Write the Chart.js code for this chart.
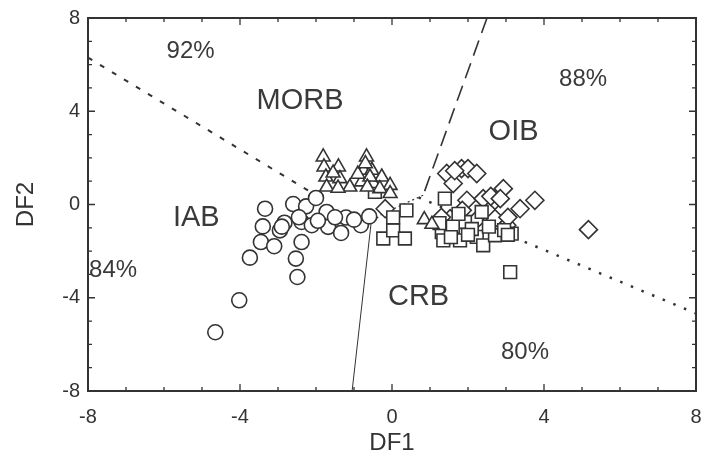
<!DOCTYPE html>
<html>
<head>
<meta charset="utf-8">
<script src="https://cdn.jsdelivr.net/npm/chart.js@4.4.1/dist/chart.umd.min.js"></script>
<style>
  html, body { margin: 0; padding: 0; background: #fff; }
  #wrap { width: 701px; height: 470px; }
</style>
</head>
<body>
<div id="wrap"><canvas id="df"></canvas></div>
<script>
// IAB (circles)
var iabX = [-4.65, -4.02, -3.74, -3.34, -3.40, -3.45, -3.10, -2.95, -2.83, -2.60, -2.49, -2.53, -2.38, -2.38,
            -2.26, -2.00, -2.11, -1.72, -1.68, -1.34, -1.21, -0.82, -0.60, -2.90, -1.95, -1.50, -1.00, -2.45];
var iabY = [-5.48, -4.11, -2.28, -0.18, -0.94, -1.61, -1.79, -1.11, -0.78, 0.02, -3.11, -2.32, -1.61, -0.75,
            -0.08, 0.28, -0.89, -0.32, -0.96, -1.22, -0.56, -0.89, -0.51, -0.95, -0.70, -0.55, -0.65, -0.55];
// MORB (triangles)
var morbX = [-1.81, -1.79, -1.74, -1.41, -1.37, -1.72, -1.11, -0.67, -0.75, -0.53, -0.80, -0.49, -0.27,
             -0.05, -0.32, -0.05, -1.42, -0.58, -0.90, -1.55, -0.65, -1.63, 0.85, 1.05, -0.70];
var morbY = [2.04, 1.61, 1.18, 1.61, 1.11, 0.75, 0.75, 2.04, 1.47, 1.47, 0.97, 0.90, 1.18,
             0.82, 0.68, 0.47, 0.70, 1.18, 1.30, 1.35, 0.75, -0.70, -0.65, -0.85, 1.75];
// CRB (squares)
var crbX = [-0.23, 0.03, 0.34, 0.03, 0.38, 1.39, 1.31, 1.35, 1.92, 1.79, 2.23, 2.36, 2.40, 2.71, 3.15, 3.11,
            1.60, 2.10, 1.25, 2.55, 2.95, 1.55, 2.00, -0.45, 3.05, 1.75];
var crbY = [-1.46, -1.11, -1.46, -0.55, -0.25, 0.25, -1.18, -1.54, -0.75, -1.54, -1.39, -0.32, -1.75, -1.32, -1.25, -2.90,
            -0.95, -1.05, -0.80, -0.95, -1.10, -1.40, -1.30, 0.54, -1.30, -0.40];
// OIB (diamonds)
var oibX = [1.83, 2.00, 2.23, 1.44, 1.61, 1.97, 2.40, 2.71, 2.93, 3.37, 3.76, 1.53, 2.71, 3.02, -0.18, 5.17,
            2.60, 1.85, 2.20, 1.30, 2.85, 1.65, 3.05];
var oibY = [1.54, 1.54, 1.33, 1.33, 0.90, 0.18, 0.25, 0.18, 0.68, -0.18, 0.18, -0.61, -0.61, -0.89, -0.18, -1.08,
            0.35, -0.25, -0.70, -0.55, 0.25, 1.45, -0.55];

// field boundaries
var iabMorbX = [-8, -1.8];        var iabMorbY = [6.3, 0.2];
var morbOibX = [2.5, 0.82];       var morbOibY = [8, 0.4];
var junctionX = [0.82, 0.35, -0.3, -0.55]; var junctionY = [0.4, 0.05, -0.45, -0.8];
var iabCrbX = [-0.55, -1.05];     var iabCrbY = [-0.8, -8];
var crbOibX = [0.7, 8];           var crbOibY = [0.3, -4.67];

// field names and success rates
var fieldText = ['MORB', 'OIB', 'IAB', 'CRB'];
var fieldX = [-2.42, 3.2, -5.15, 0.7];
var fieldY = [4.45, 3.1, -0.6, -3.95];
var rateText = ['92%', '88%', '84%', '80%'];
var rateX = [-5.3, 5.03, -7.34, 3.5];
var rateY = [6.57, 5.37, -2.82, -6.34];

var ink = '#333';

function pts(xs, ys) {
  return xs.map(function (x, i) { return { x: x, y: ys[i] }; });
}

function markers(label, xs, ys, style, r) {
  return {
    type: 'scatter', label: label, data: pts(xs, ys),
    pointStyle: style, pointRadius: r, pointHoverRadius: r,
    pointBackgroundColor: '#fff', pointBorderColor: ink, pointBorderWidth: 1.6
  };
}

function boundary(xs, ys, dash, width) {
  return {
    type: 'line', data: pts(xs, ys), showLine: true, pointRadius: 0,
    borderColor: ink, borderWidth: width, borderDash: dash, fill: false, tension: 0
  };
}

var frame = {
  id: 'frame',
  afterDatasetsDraw: function (chart) {
    var c = chart.ctx, a = chart.chartArea;
    var sx = chart.scales.x, sy = chart.scales.y;
    c.save();
    c.strokeStyle = ink;
    c.lineWidth = 2;
    c.strokeRect(a.left, a.top, a.right - a.left, a.bottom - a.top);
    c.lineWidth = 1.3;
    c.beginPath();
    for (var v = -8; v <= 8; v++) {
      var len = (v % 4 === 0) ? 7 : 4;
      var px = sx.getPixelForValue(v), py = sy.getPixelForValue(v);
      c.moveTo(px, a.bottom); c.lineTo(px, a.bottom - len);
      c.moveTo(px, a.top); c.lineTo(px, a.top + len);
      c.moveTo(a.left, py); c.lineTo(a.left + len, py);
      c.moveTo(a.right, py); c.lineTo(a.right - len, py);
    }
    c.stroke();

    c.fillStyle = '#3a3a3a';
    c.textAlign = 'center';
    c.textBaseline = 'middle';
    c.font = '29px "Liberation Sans", Arial, sans-serif';
    fieldText.forEach(function (t, i) {
      c.fillText(t, sx.getPixelForValue(fieldX[i]), sy.getPixelForValue(fieldY[i]));
    });
    c.font = '24px "Liberation Sans", Arial, sans-serif';
    rateText.forEach(function (t, i) {
      c.fillText(t, sx.getPixelForValue(rateX[i]), sy.getPixelForValue(rateY[i]));
    });
    c.restore();
  }
};

var context = document.getElementById('df').getContext('2d');
var myChart = new Chart(context, {
  type: 'scatter',
  data: {
    datasets: [
      markers('IAB', iabX, iabY, 'circle', 7.5),
      markers('MORB', morbX, morbY, 'triangle', 8),
      markers('CRB', crbX, crbY, 'rect', 9),
      markers('OIB', oibX, oibY, 'rectRot', 9),
      boundary(iabMorbX, iabMorbY, [5, 9], 2),
      boundary(morbOibX, morbOibY, [16, 8], 1.6),
      boundary(junctionX, junctionY, [2, 3], 1.2),
      boundary(iabCrbX, iabCrbY, [], 1),
      boundary(crbOibX, crbOibY, [2.5, 9], 2.5)
    ]
  },
  options: {
    responsive: true,
    maintainAspectRatio: false,
    animation: false,
    layout: { autoPadding: false, padding: { top: 18, right: 5, left: 0, bottom: 0 } },
    plugins: { legend: { display: false }, tooltip: { enabled: false } },
    scales: {
      x: {
        type: 'linear', min: -8, max: 8,
        grid: { display: false, drawTicks: false },
        border: { display: false },
        ticks: { stepSize: 4, color: ink, padding: 14, font: { size: 20, family: '"Liberation Sans", Arial' } },
        title: { display: true, text: 'DF1', color: ink, padding: { top: 4, bottom: 12 }, font: { size: 24, family: '"Liberation Sans", Arial' } },
        afterFit: function (s) { s.height = 79; s.paddingLeft = 0; s.paddingRight = 0; }
      },
      y: {
        type: 'linear', min: -8, max: 8,
        grid: { display: false, drawTicks: false },
        border: { display: false },
        ticks: { stepSize: 4, color: ink, padding: 8, font: { size: 20, family: '"Liberation Sans", Arial' } },
        title: { display: true, text: 'DF2', color: ink, padding: { top: 12, bottom: 4 }, font: { size: 24, family: '"Liberation Sans", Arial' } },
        afterFit: function (s) { s.width = 88; s.paddingTop = 0; s.paddingBottom = 0; }
      }
    }
  },
  plugins: [frame]
});
</script>
</body>
</html>
